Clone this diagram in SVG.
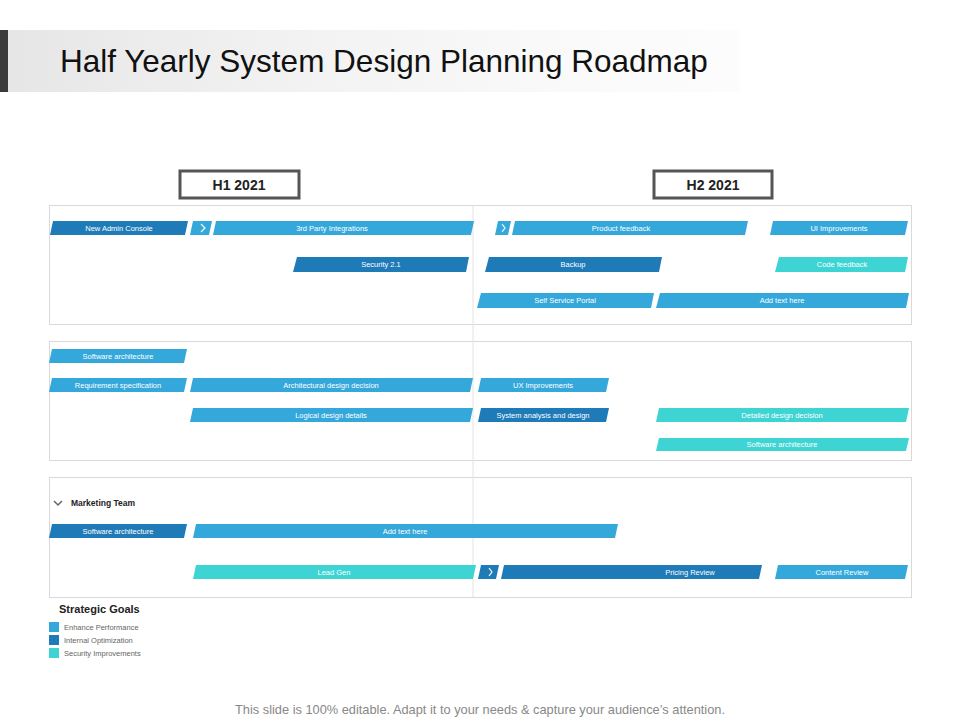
<svg xmlns="http://www.w3.org/2000/svg" width="960" height="720" viewBox="0 0 960 720">
<defs>
<linearGradient id="tg" x1="0" x2="1" y1="0" y2="0"><stop offset="0" stop-color="#e6e6e6"/><stop offset="1" stop-color="#f7f7f7" stop-opacity="0.3"/></linearGradient>
</defs>
<style>
.lb{fill:#35a8db}.db{fill:#1f7ab8}.tl{fill:#3ed4d4}
.bt{font-family:"Liberation Sans",Arial,sans-serif;font-size:7.5px;fill:#ffffff;text-anchor:middle}
.panel{fill:#fff;stroke:#d9d9d9;stroke-width:1}
.chev{fill:none;stroke:#fff;stroke-width:1.2}
.hdr{fill:#fff;stroke:#555;stroke-width:3}
.ht{font-family:"Liberation Sans",Arial,sans-serif;font-size:14px;font-weight:bold;fill:#222;text-anchor:middle}
.lg{font-family:"Liberation Sans",Arial,sans-serif;font-size:7.5px;fill:#666}
</style>
<rect width="960" height="720" fill="#fff"/>
<rect x="8" y="30" width="732" height="62" fill="url(#tg)"/>
<rect x="0" y="30" width="8" height="62" fill="#3a3a3a"/>
<text x="60" y="72" font-family="Liberation Sans,Arial,sans-serif" font-size="31.5" fill="#111">Half Yearly System Design Planning Roadmap</text>
<g id="h1"><rect class="hdr" x="180" y="171" width="119" height="27"/><text class="ht" x="239" y="190">H1 2021</text></g>
<g id="h2"><rect class="hdr" x="654" y="171" width="118" height="27"/><text class="ht" x="713" y="190">H2 2021</text></g>
<rect class="panel" x="49.5" y="205.5" width="862" height="119"/>
<rect class="panel" x="49.5" y="341.5" width="862" height="119"/>
<rect class="panel" x="49.5" y="477.5" width="862" height="120"/>
<g id="connectors"><line x1="473" y1="206" x2="473" y2="597" stroke="#e3e3e3" stroke-width="1"/></g>
<g id="p1">
<polygon class="db" points="53,221 188,221 185,235 50,235"/><text class="bt" x="119" y="231">New Admin Console</text>
<polygon class="lb" points="193,221 212,221 209,235 190,235"/><polyline class="chev" points="201,224 205,228 201,232"/>
<polygon class="lb" points="216,221 474,221 471,235 213,235"/><text class="bt" x="332" y="231">3rd Party Integrations</text>
<polygon class="lb" points="498,221 511,221 508,235 495,235"/><polyline class="chev" points="502,224 505,228 502,232"/>
<polygon class="lb" points="515,221 748,221 745,235 512,235"/><text class="bt" x="621" y="231">Product feedback</text>
<polygon class="lb" points="773,221 908,221 905,235 770,235"/><text class="bt" x="839" y="231">UI Improvements</text>
<polygon class="db" points="297,257 469,257 466,272 293,272"/><text class="bt" x="381" y="267">Security 2.1</text>
<polygon class="db" points="489,257 662,257 659,272 485,272"/><text class="bt" x="573" y="267">Backup</text>
<polygon class="tl" points="779,257 908,257 905,272 775,272"/><text class="bt" x="842" y="267">Code feedback</text>
<polygon class="lb" points="481,293 654,293 651,308 477,308"/><text class="bt" x="565" y="303">Self Service Portal</text>
<polygon class="lb" points="660,293 909,293 906,308 656,308"/><text class="bt" x="782" y="303">Add text here</text>
</g>
<g id="p2">
<polygon class="lb" points="52,349 187,349 184,363 49,363"/><text class="bt" x="118" y="359">Software architecture</text>
<polygon class="lb" points="52,378 187,378 184,392 49,392"/><text class="bt" x="118" y="388">Requirement specification</text>
<polygon class="lb" points="193,378 473,378 470,392 190,392"/><text class="bt" x="331" y="388">Architectural design decision</text>
<polygon class="lb" points="481,378 609,378 606,392 478,392"/><text class="bt" x="543" y="388">UX Improvements</text>
<polygon class="lb" points="193,408 473,408 470,422 190,422"/><text class="bt" x="331" y="418">Logical design details</text>
<polygon class="db" points="481,408 609,408 606,422 478,422"/><text class="bt" x="543" y="418">System analysis and design</text>
<polygon class="tl" points="659,408 909,408 906,422 656,422"/><text class="bt" x="782" y="418">Detailed design decision</text>
<polygon class="tl" points="659,438 909,438 906,451 656,451"/><text class="bt" x="782" y="447">Software architecture</text>
</g>
<g id="p3">
<polyline points="54,501 58,505 62,501" fill="none" stroke="#666" stroke-width="1.5"/>
<text x="71" y="506" font-family="Liberation Sans,Arial,sans-serif" font-size="8.5" font-weight="bold" fill="#222">Marketing Team</text>
<polygon class="db" points="52,524 187,524 184,538 49,538"/><text class="bt" x="118" y="534">Software architecture</text>
<polygon class="lb" points="196,524 618,524 615,538 193,538"/><text class="bt" x="405" y="534">Add text here</text>
<polygon class="tl" points="196,565 476,565 473,579 193,579"/><text class="bt" x="334" y="575">Lead Gen</text>
<polygon class="db" points="481,565 499,565 496,579 478,579"/><polyline class="chev" points="489,568 492,572 489,576"/>
<polygon class="db" points="504,565 762,565 759,579 501,579"/><text class="bt" x="690" y="575">Pricing Review</text>
<polygon class="lb" points="778,565 908,565 905,579 775,579"/><text class="bt" x="842" y="575">Content Review</text>
</g>
<g id="legend">
<text x="59" y="613" font-family="Liberation Sans,Arial,sans-serif" font-size="11" font-weight="bold" fill="#222">Strategic Goals</text>
<rect class="lb" x="49" y="622" width="10" height="10"/><text class="lg" x="64" y="630">Enhance Performance</text>
<rect class="db" x="49" y="635" width="10" height="10"/><text class="lg" x="64" y="643">Internal Optimization</text>
<rect class="tl" x="49" y="648" width="10" height="10"/><text class="lg" x="64" y="656">Security Improvements</text>
</g>
<text x="480" y="714" text-anchor="middle" font-family="Liberation Sans,Arial,sans-serif" font-size="12.8" fill="#888">This slide is 100% editable. Adapt it to your needs &amp; capture your audience’s attention.</text>
</svg>
